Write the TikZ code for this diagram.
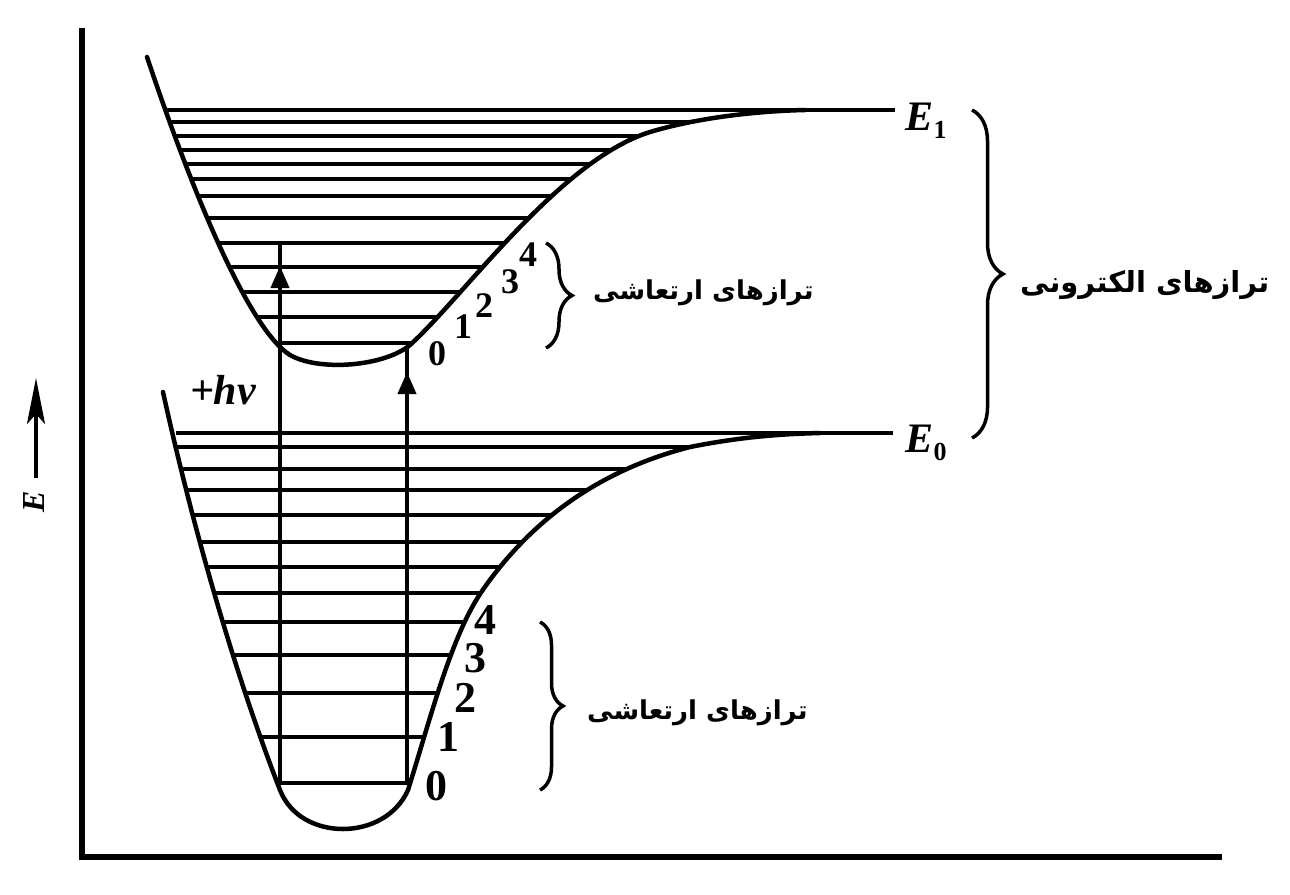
\documentclass[tikz,border=0pt]{standalone}
\usepackage{fontspec}
\setmainfont{Liberation Serif}
\newfontfamily\arabicfont[Script=Arabic]{DejaVu Sans}
\TeXXeTstate=1
\usetikzlibrary{arrows.meta,decorations.pathreplacing}
\def\upperwall{(147,57) .. controls (195,200) and (250,330) .. (290,355)
  .. controls (320,372) and (385,366) .. (410,345)
  .. controls (465,295) and (560,160) .. (650,132)
  .. controls (700,117) and (760,111) .. (805,110)}
\def\lowerwall{(163,392) .. controls (200,560) and (245,700) .. (280,790)
  .. controls (300,842) and (385,842) .. (408,790)
  .. controls (430,720) and (450,640) .. (480,594)
  .. controls (530,520) and (600,470) .. (690,447)
  .. controls (740,437) and (780,434) .. (820,433)}
\begin{document}
\begin{tikzpicture}[x=1pt,y=-1pt,
  wall/.style={line width=4.5pt,line join=round,line cap=round},
  lev/.style={line width=4.2pt},
  axisline/.style={line width=6pt},
  trans/.style={line width=4pt},
  tipup/.style={-{Triangle[length=22pt,width=18pt]},line width=4pt},
  curly/.style={decorate,decoration={brace,amplitude=#1},line width=3.5pt},
  num/.style={font=\fontsize{36}{38}\selectfont\bfseries,inner sep=0pt},
  bignum/.style={font=\fontsize{44}{46}\selectfont\bfseries,inner sep=0pt},
  elab/.style={font=\fontsize{42}{44}\selectfont\bfseries\itshape,inner sep=0pt},
  axlab/.style={font=\fontsize{32}{34}\selectfont\bfseries\itshape,inner sep=0pt},
  sub/.style={font=\fontsize{26}{28}\selectfont\bfseries,inner sep=0pt},
  fa/.style={font=\fontsize{26}{32}\selectfont\arabicfont\bfseries,inner sep=0pt},
  fabig/.style={font=\fontsize{29}{35}\selectfont\arabicfont\bfseries,inner sep=0pt}
]
\useasboundingbox (0,0) rectangle (1290,894);

% axes
\coordinate (axtop) at (82,28);
\coordinate (origin) at (82,857);
\coordinate (axright) at (1222,857);
\draw[axisline] (axtop) -- (origin) -- (axright);

% energy arrow
\coordinate (ea0) at (36,478);
\coordinate (ea1) at (36,378);
\draw[line width=4pt,-{Stealth[length=46pt,width=18pt,inset=10pt]}] (ea0) -- (ea1);
\node[axlab,rotate=90] (Eax) at (34,502) {E};

% ---------- upper well ----------
\begin{scope}
\clip \upperwall -- (805,60) -- (147,40) -- cycle;
\foreach \yy in {122,136,150,164,179,196,218,243,267,292,317,343}
  \draw[lev] (100,\yy) -- (900,\yy);
\end{scope}
\coordinate (E1a) at (166,110);
\coordinate (E1b) at (895,110);
\draw[lev] (E1a) -- (E1b);
\draw[wall] \upperwall;

% ---------- lower well ----------
\begin{scope}
\clip \lowerwall -- (820,380) -- (163,380) -- cycle;
\foreach \yy in {447,469,490,515,542,567,593,622,655,693,737,783}
  \draw[lev] (100,\yy) -- (900,\yy);
\end{scope}
\coordinate (E0a) at (176,433);
\coordinate (E0b) at (893,433);
\draw[lev] (E0a) -- (E0b);
\draw[wall] \lowerwall;

% ---------- transitions ----------
\coordinate (Lb) at (280,783);
\coordinate (Lt) at (280,243);
\draw[trans] (Lb) -- (Lt);
\coordinate (La0) at (280,290);
\coordinate (La1) at (280,266);
\draw[tipup] (La0) -- (La1);
\coordinate (Rb) at (407,783);
\coordinate (Rt) at (407,346);
\draw[trans] (Rb) -- (Rt);
\coordinate (Ra0) at (407,396);
\coordinate (Ra1) at (407,372);
\draw[tipup] (Ra0) -- (Ra1);
\node[elab] (hv) at (223,390) {+hν};

% ---------- labels ----------
\node[elab,anchor=base west] (E1) at (905,130) {E};
\node[sub,anchor=base west] (E1s) at (E1.base east) {\raisebox{-8pt}{1}};
\node[elab,anchor=base west] (E0) at (905,452) {E};
\node[sub,anchor=base west] (E0s) at (E0.base east) {\raisebox{-8pt}{0}};

\node[num] (u0) at (437,354) {0};
\node[num] (u1) at (463,327) {1};
\node[num] (u2) at (484,306) {2};
\node[num] (u3) at (510,282) {3};
\node[num] (u4) at (528,255) {4};

\node[bignum] (d0) at (436,786) {0};
\node[bignum] (d1) at (448,737) {1};
\node[bignum] (d2) at (465,698) {2};
\node[bignum] (d3) at (475,658) {3};
\node[bignum] (d4) at (485,620) {4};

% braces
\coordinate (ub0) at (546,243);
\coordinate (ub1) at (546,348);
\draw[curly=26pt] (ub0) -- (ub1);
\node[fa,anchor=west] (uvib) at (593,293) {\beginR ترازهای ارتعاشی\endR};

\coordinate (lb0) at (540,622);
\coordinate (lb1) at (540,790);
\draw[curly=23pt] (lb0) -- (lb1);
\node[fa,anchor=west] (lvib) at (587,713) {\beginR ترازهای ارتعاشی\endR};

\coordinate (bb0) at (972,110);
\coordinate (bb1) at (972,438);
\draw[curly=31pt] (bb0) -- (bb1);
\node[fabig,anchor=west] (elec) at (1020,285) {\beginR ترازهای الکترونی\endR};
\end{tikzpicture}
\end{document}
